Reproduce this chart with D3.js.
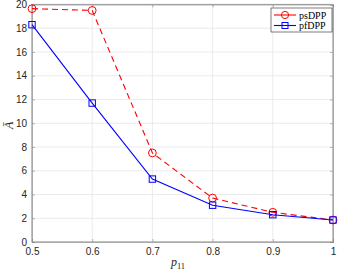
<!DOCTYPE html>
<html>
<head>
<meta charset="utf-8">
<script src="https://cdn.jsdelivr.net/npm/d3@7"></script>
<style>
  body { margin: 0; background: #fff; }
  text { font-family: "Liberation Sans", Arial, sans-serif; }
</style>
</head>
<body>
<svg width="338" height="272"></svg>
<script>
const xVals = [0.5, 0.6, 0.7, 0.8, 0.9, 1.0];
const psDPP = [19.65, 19.5, 7.5, 3.7, 2.5, 1.85];
const pfDPP = [18.3, 11.7, 5.3, 3.1, 2.3, 1.85];
const xTicks = [0.5, 0.6, 0.7, 0.8, 0.9, 1];
const yTicks = [0, 2, 4, 6, 8, 10, 12, 14, 16, 18, 20];

const svg = d3.select("svg");
const margin = { top: 4.5, right: 5, bottom: 30, left: 32 };
const w = 338 - margin.left - margin.right;
const h = 272 - margin.top - margin.bottom;
const g = svg.append("g").attr("transform", "translate(" + margin.left + "," + margin.top + ")");

const x = d3.scaleLinear().domain([0.5, 1]).range([0, w]);
const y = d3.scaleLinear().domain([0, 20]).range([h, 0]);

// grid
g.append("g").selectAll("line").data(xTicks).enter().append("line")
  .attr("x1", d => x(d)).attr("x2", d => x(d)).attr("y1", 0).attr("y2", h)
  .attr("stroke", "#e6e6e6").attr("stroke-width", 0.8);
g.append("g").selectAll("line").data(yTicks).enter().append("line")
  .attr("y1", d => y(d)).attr("y2", d => y(d)).attr("x1", 0).attr("x2", w)
  .attr("stroke", "#e6e6e6").attr("stroke-width", 0.8);

// axes (ticks inward)
const ax = g.append("g").attr("transform", "translate(0," + h + ")")
  .call(d3.axisBottom(x).tickValues(xTicks).tickSize(-3).tickPadding(6).tickFormat(d3.format("")));
const ay = g.append("g")
  .call(d3.axisLeft(y).tickValues(yTicks).tickSize(-3).tickPadding(5));
const axT = g.append("g").call(d3.axisTop(x).tickValues(xTicks).tickSize(-3).tickFormat(""));
const ayR = g.append("g").attr("transform", "translate(" + w + ",0)")
  .call(d3.axisRight(y).tickValues(yTicks).tickSize(-3).tickFormat(""));
[ax, ay, axT, ayR].forEach(a => {
  a.select(".domain").attr("stroke", "#262626").attr("stroke-width", 0.6).attr("stroke-opacity", 0.5);
  a.selectAll(".tick line").attr("stroke", "#262626").attr("stroke-width", 0.6).attr("stroke-opacity", 0.5);
  a.selectAll(".tick text").attr("fill", "#262626").style("font-size", "10px").style("font-family", "Liberation Sans, Arial, sans-serif");
});
g.append("rect").attr("width", w).attr("height", h).attr("fill", "none")
  .attr("stroke", "#a0a0a0").attr("stroke-width", 1.2);

// lines
const line = d3.line().x((d, i) => x(xVals[i])).y(d => y(d));
g.append("path").datum(psDPP).attr("d", line).attr("fill", "none")
  .attr("stroke", "#ff0000").attr("stroke-width", 1.1).attr("stroke-dasharray", "6,4");
g.append("path").datum(pfDPP).attr("d", line).attr("fill", "none")
  .attr("stroke", "#0000ff").attr("stroke-width", 1.1);

g.append("g").selectAll("circle").data(psDPP).enter().append("circle")
  .attr("cx", (d, i) => x(xVals[i])).attr("cy", d => y(d)).attr("r", 3.9)
  .attr("fill", "none").attr("stroke", "#ff0000").attr("stroke-width", 1);
g.append("g").selectAll("rect").data(pfDPP).enter().append("rect")
  .attr("x", (d, i) => x(xVals[i]) - 3.2).attr("y", d => y(d) - 3.2)
  .attr("width", 6.4).attr("height", 6.4)
  .attr("fill", "none").attr("stroke", "#0000ff").attr("stroke-width", 1);

// legend
const lg = svg.append("g").attr("transform", "translate(271,8)");
lg.append("rect").attr("width", 61).attr("height", 24).attr("fill", "#fff")
  .attr("stroke", "#262626").attr("stroke-width", 0.6);
const items = [{ name: "psDPP", c: "#ff0000", m: "circle" }, { name: "pfDPP", c: "#0000ff", m: "square" }];
items.forEach((it, i) => {
  const yy = 7 + i * 10.5;
  lg.append("line").attr("x1", 3).attr("x2", 25).attr("y1", yy).attr("y2", yy)
    .attr("stroke", it.c).attr("stroke-width", 1.1);
  if (it.m === "circle") {
    lg.append("circle").attr("cx", 14).attr("cy", yy).attr("r", 3.6).attr("fill", "none").attr("stroke", it.c);
  } else {
    lg.append("rect").attr("x", 11).attr("y", yy - 3).attr("width", 6).attr("height", 6).attr("fill", "none").attr("stroke", it.c);
  }
  lg.append("text").attr("x", 28).attr("y", yy + 3.5).text(it.name)
    .style("font-family", "Liberation Serif, Times New Roman, serif").style("font-size", "10px").attr("fill", "#000");
});

// labels
svg.append("text").attr("transform", "translate(13," + (margin.top + y(10) + 2) + ") rotate(-90)")
  .attr("text-anchor", "middle").style("font-family", "Liberation Serif, serif").style("font-size", "12px")
  .style("font-style", "italic").attr("fill", "#262626").text("\u0100");
const xl = svg.append("text").attr("x", 178).attr("y", 266).attr("text-anchor", "middle")
  .style("font-family", "Liberation Serif, serif").style("font-size", "12px").attr("fill", "#262626");
xl.append("tspan").style("font-style", "italic").text("p");
xl.append("tspan").attr("dy", 2.5).style("font-size", "8.5px").text("11");
</script>
</body>
</html>
